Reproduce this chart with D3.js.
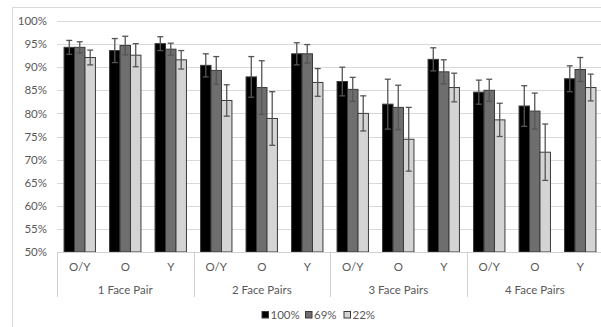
<!DOCTYPE html>
<html>
<head>
<meta charset="utf-8">
<script src="https://cdn.jsdelivr.net/npm/d3@7"></script>
<style>
  html, body { margin: 0; padding: 0; background: #fff; }
  svg { display: block; font-family: Lato, "Liberation Sans", Arial, sans-serif; }
</style>
</head>
<body>
<svg id="chart" width="601" height="327"></svg>
<script>
// Accuracy by number of face pairs, face type and image condition
const groups = ["1 Face Pair", "2 Face Pairs", "3 Face Pairs", "4 Face Pairs"];
const faceTypes = ["O/Y", "O", "Y"];
const seriesNames = ["100%", "69%", "22%"];

const values100 = [94.3, 93.6, 95.1, 90.4, 87.9, 92.9, 86.9, 82.0, 91.7, 84.6, 81.6, 87.5];
const values69  = [94.3, 94.7, 93.9, 89.3, 85.6, 92.9, 85.2, 81.3, 89.0, 85.0, 80.5, 89.5];
const values22  = [92.1, 92.6, 91.6, 82.8, 78.9, 86.7, 80.0, 74.4, 85.6, 78.6, 71.6, 85.6];

const err100 = [1.5, 2.6, 1.5, 2.5, 4.4, 2.4, 3.1, 5.4, 2.5, 2.6, 4.4, 2.8];
const err69  = [1.2, 2.0, 1.3, 3.0, 5.8, 2.0, 2.6, 4.8, 2.6, 2.4, 3.9, 2.6];
const err22  = [1.6, 2.5, 2.0, 3.4, 5.8, 3.0, 3.8, 6.9, 3.1, 3.6, 6.1, 2.9];

const yTicks = [50, 55, 60, 65, 70, 75, 80, 85, 90, 95, 100];

const seriesValues = [values100, values69, values22];
const seriesErrors = [err100, err69, err22];
const seriesFill = ["#000000", "#6e6e6e", "#d4d4d4"];

const fontFamily = "Lato, 'Liberation Sans', Arial, sans-serif";
const textColor = "#595959";

// one entry per category slot (group x face type)
const slots = [];
groups.forEach(g => faceTypes.forEach(t => slots.push({ key: g + "|" + t, group: g, type: t })));

const svg = d3.select("#chart");
const plotLeft = 57, plotRight = 603, plotTop = 21, plotBottom = 252;

// outer chart frame
svg.append("rect")
  .attr("x", 12.5).attr("y", 7.5).attr("width", 620).attr("height", 340)
  .attr("fill", "none").attr("stroke", "#d9d9d9").attr("stroke-width", 1);

const y = d3.scaleLinear().domain([50, 100]).range([plotBottom, plotTop]);
const xGroup = d3.scaleBand().domain(groups).range([plotLeft, plotRight]);
const xSlot = d3.scaleBand().domain(slots.map(s => s.key)).range([plotLeft, plotRight])
  .paddingInner(0.31).paddingOuter(0.155);
const xSeries = d3.scaleBand().domain(seriesNames).range([0, xSlot.bandwidth()]);

// gridlines
svg.append("g").selectAll("line").data(yTicks.filter(t => t > 50)).join("line")
  .attr("x1", plotLeft).attr("x2", plotRight)
  .attr("y1", d => Math.round(y(d)) + 0.5).attr("y2", d => Math.round(y(d)) + 0.5)
  .attr("stroke", "#d9d9d9").attr("stroke-width", 1);

// y axis labels
const yAxis = d3.axisLeft(y).tickValues(yTicks).tickSize(0).tickPadding(10)
  .tickFormat(d => d + "%");
const gy = svg.append("g").attr("transform", `translate(${plotLeft},0)`).call(yAxis);
gy.select(".domain").remove();
gy.selectAll("text").attr("fill", textColor).attr("font-size", 11.5)
  .attr("font-family", fontFamily);

// bars
const barData = [];
slots.forEach((s, i) => {
  seriesNames.forEach((n, j) => {
    barData.push({ slot: s.key, name: n, v: seriesValues[j][i], e: seriesErrors[j][i], fill: seriesFill[j] });
  });
});

svg.append("g").selectAll("rect").data(barData).join("rect")
  .attr("x", d => xSlot(d.slot) + xSeries(d.name))
  .attr("y", d => y(d.v))
  .attr("width", xSeries.bandwidth())
  .attr("height", d => y(50) - y(d.v))
  .attr("fill", d => d.fill)
  .attr("stroke", "#3a3a3a").attr("stroke-width", 1);

// error bars
const eb = svg.append("g").attr("stroke", "#555555").attr("stroke-width", 1.3).attr("fill", "none");
const cx = d => xSlot(d.slot) + xSeries(d.name) + xSeries.bandwidth() / 2;
eb.selectAll("line.v").data(barData).join("line").attr("class", "v")
  .attr("x1", cx).attr("x2", cx)
  .attr("y1", d => y(d.v + d.e)).attr("y2", d => y(d.v - d.e));
eb.selectAll("line.t").data(barData).join("line").attr("class", "t")
  .attr("x1", d => cx(d) - 3).attr("x2", d => cx(d) + 3)
  .attr("y1", d => y(d.v + d.e)).attr("y2", d => y(d.v + d.e));
eb.selectAll("line.b").data(barData).join("line").attr("class", "b")
  .attr("x1", d => cx(d) - 3).attr("x2", d => cx(d) + 3)
  .attr("y1", d => y(d.v - d.e)).attr("y2", d => y(d.v - d.e));

// category axis
const ax = svg.append("g").attr("font-family", fontFamily);
ax.append("line").attr("x1", plotLeft).attr("x2", plotRight)
  .attr("y1", plotBottom + 0.5).attr("y2", plotBottom + 0.5)
  .attr("stroke", "#d0d0d0");
ax.selectAll("line.sep").data(groups).join("line").attr("class", "sep")
  .attr("x1", d => Math.round(xGroup(d)) + 0.5)
  .attr("x2", d => Math.round(xGroup(d)) + 0.5)
  .attr("y1", plotBottom).attr("y2", 297)
  .attr("stroke", "#d0d0d0");
ax.selectAll("text.cat").data(slots).join("text").attr("class", "cat")
  .attr("x", d => xSlot(d.key) + xSlot.bandwidth() / 2)
  .attr("y", 271)
  .attr("text-anchor", "middle")
  .attr("fill", textColor).attr("font-size", 11.5)
  .text(d => d.type);
ax.selectAll("text.grp").data(groups).join("text").attr("class", "grp")
  .attr("x", d => xGroup(d) + xGroup.bandwidth() / 2)
  .attr("y", 294)
  .attr("text-anchor", "middle")
  .attr("fill", textColor).attr("font-size", 11.5)
  .text(d => d);

// legend
const legendX = [262, 305.5, 344];
const lg = svg.append("g").attr("font-family", fontFamily);
seriesNames.forEach((n, j) => {
  lg.append("rect")
    .attr("x", legendX[j]).attr("y", 311.5).attr("width", 6.5).attr("height", 6.5)
    .attr("fill", seriesFill[j]).attr("stroke", "#3a3a3a").attr("stroke-width", 1);
  lg.append("text")
    .attr("x", legendX[j] + 8.5).attr("y", 319)
    .attr("fill", textColor).attr("font-size", 11.5)
    .text(n);
});
</script>
</body>
</html>
